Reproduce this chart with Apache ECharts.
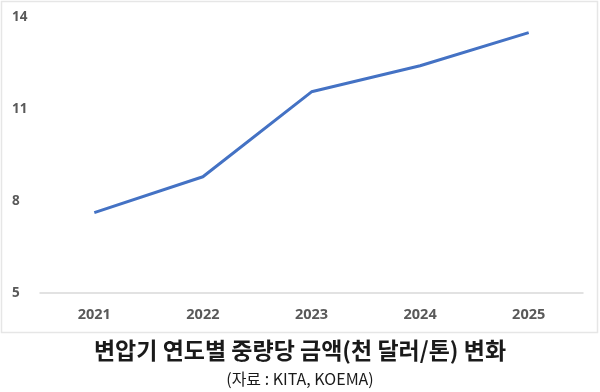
<!DOCTYPE html>
<html><head><meta charset="utf-8">
<script src="https://cdn.jsdelivr.net/npm/echarts@6/dist/echarts.min.js"></script>
<style>html,body{margin:0;padding:0;background:#fff}#c{width:600px;height:392px}</style>
</head><body><div id="c"></div>
<script>
const categories = ['2021','2022','2023','2024','2025'];
const values = [7.62, 8.79, 11.56, 12.41, 13.49];
const yTicks = [5, 8, 11, 14];
const title = '변압기 연도별 중량당 금액(천 달러/톤) 변화';
const subtitle = '(자료 : KITA, KOEMA)';

const chart = echarts.init(document.getElementById('c'), null, {renderer:'canvas'});
chart.setOption({
  animation:false,
  backgroundColor:'#fff',
  grid:{left:40,right:17,top:17,bottom:99},
  xAxis:{type:'category',data:categories,boundaryGap:true,
    axisLine:{lineStyle:{color:'#d9d9d9',width:1.5}},
    axisTick:{show:false},
    axisLabel:{color:'#595959',fontSize:14.5,fontWeight:'bold',fontFamily:'"Open Sans", "Noto Sans", sans-serif',margin:14}},
  yAxis:{type:'value',min:yTicks[0],max:yTicks[yTicks.length-1],interval:3,
    splitLine:{show:false},axisLine:{show:false},axisTick:{show:false},
    axisLabel:{color:'#595959',fontSize:13.5,fontWeight:'bold',align:'left',margin:28,fontFamily:'"Open Sans", "Noto Sans", sans-serif'}},
  series:[{type:'line',data:values,symbol:'none',lineStyle:{color:'#4472C4',width:3}}],
  graphic:[
    {type:'rect',shape:{x:1.5,y:1.5,width:596,height:331},style:{fill:'none',stroke:'#e6e6e6',lineWidth:1.5},silent:true},
    {type:'text',left:'center',top:339,style:{text:title,fontSize:23,fontWeight:'bold',fill:'#1a1a1a',fontFamily:'"Noto Sans CJK KR", sans-serif'}},
    {type:'text',left:'center',top:371,style:{text:subtitle,fontSize:16,fill:'#1a1a1a',fontFamily:'"Noto Sans CJK KR", sans-serif'}}
  ]
});
</script></body></html>
